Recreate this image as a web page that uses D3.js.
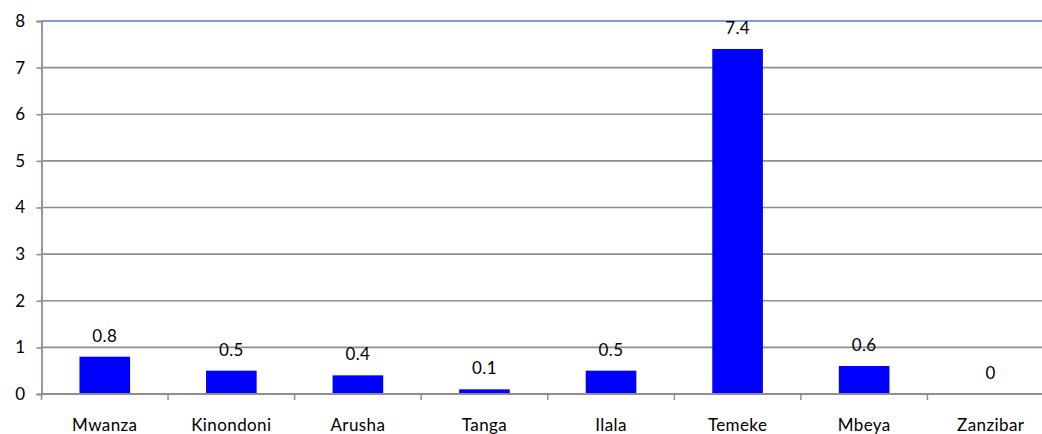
<!DOCTYPE html>
<html>
<head>
<meta charset="utf-8">
<script src="https://cdn.jsdelivr.net/npm/d3@7"></script>
<style>
  html, body { margin: 0; padding: 0; background: #fff; }
  svg { display: block; }
  text { font-family: Lato, "Open Sans", sans-serif; fill: #000; letter-spacing: 0.4px; }
</style>
</head>
<body>
<svg id="chart" width="1042" height="434"></svg>
<script>
// Values per district
const categories = ["Mwanza", "Kinondoni", "Arusha", "Tanga", "Ilala", "Temeke", "Mbeya", "Zanzibar"];
const values = [0.8, 0.5, 0.4, 0.1, 0.5, 7.4, 0.6, 0];
const yTicks = [0, 1, 2, 3, 4, 5, 6, 7, 8];

(function () {
  const svg = d3.select("#chart");
  const plotLeft = 41.5, plotRight = 1054, plotTop = 21, plotBottom = 394;
  const fontSize = 17;

  const x = d3.scaleBand()
    .domain(categories)
    .range([plotLeft, plotRight])
    .paddingInner(0.6)
    .paddingOuter(0.3);

  const y = d3.scaleLinear().domain([0, 8]).range([plotBottom, plotTop]);

  // Horizontal gridlines
  svg.append("g")
    .selectAll("line")
    .data(yTicks.filter(d => d > 0 && d < 8))
    .join("line")
    .attr("x1", plotLeft).attr("x2", 1042)
    .attr("y1", d => y(d)).attr("y2", d => y(d))
    .attr("stroke", "#8e8e8e")
    .attr("stroke-width", 1.6);

  // Top border of the plot area
  svg.append("line")
    .attr("x1", plotLeft).attr("x2", 1042)
    .attr("y1", y(8)).attr("y2", y(8))
    .attr("stroke", "#4f81bd")
    .attr("stroke-width", 1.6);

  // Bars
  svg.append("g")
    .selectAll("rect")
    .data(categories)
    .join("rect")
    .attr("x", d => x(d))
    .attr("width", x.bandwidth())
    .attr("y", (d, i) => y(values[i]))
    .attr("height", (d, i) => y(0) - y(values[i]))
    .attr("fill", "#0000ff");

  // Value labels
  svg.append("g")
    .selectAll("text")
    .data(categories)
    .join("text")
    .attr("x", d => x(d) + x.bandwidth() / 2)
    .attr("y", (d, i) => y(values[i]) - 15)
    .attr("text-anchor", "middle")
    .attr("font-size", fontSize)
    .text((d, i) => values[i]);

  // Y axis
  const yAxis = svg.append("g")
    .attr("transform", `translate(${plotLeft},0)`)
    .call(d3.axisLeft(y).tickValues(yTicks).tickSize(5).tickPadding(11).tickFormat(d3.format("d")));
  yAxis.select(".domain").attr("stroke", "#8d98a7").attr("stroke-width", 2);
  yAxis.selectAll(".tick line").attr("stroke", "#8e8e8e").attr("stroke-width", 1.6);
  yAxis.selectAll(".tick text").attr("font-size", fontSize)
    .attr("font-family", "Lato, 'Open Sans', sans-serif").attr("fill", "#000");

  // X axis: baseline, category boundary ticks and labels
  const step = (plotRight - plotLeft) / categories.length;
  const xg = svg.append("g");
  xg.append("line")
    .attr("x1", plotLeft).attr("x2", 1042)
    .attr("y1", plotBottom).attr("y2", plotBottom)
    .attr("stroke", "#8e8e8e")
    .attr("stroke-width", 2);
  xg.selectAll("line.tick")
    .data(d3.range(categories.length + 1))
    .join("line")
    .attr("class", "tick")
    .attr("x1", i => plotLeft + i * step)
    .attr("x2", i => plotLeft + i * step)
    .attr("y1", plotBottom).attr("y2", plotBottom + 6)
    .attr("stroke", "#8e8e8e")
    .attr("stroke-width", 1.5);
  xg.selectAll("text")
    .data(categories)
    .join("text")
    .attr("x", d => x(d) + x.bandwidth() / 2)
    .attr("y", 431)
    .attr("text-anchor", "middle")
    .attr("font-size", fontSize)
    .text(d => d);
})();
</script>
</body>
</html>
